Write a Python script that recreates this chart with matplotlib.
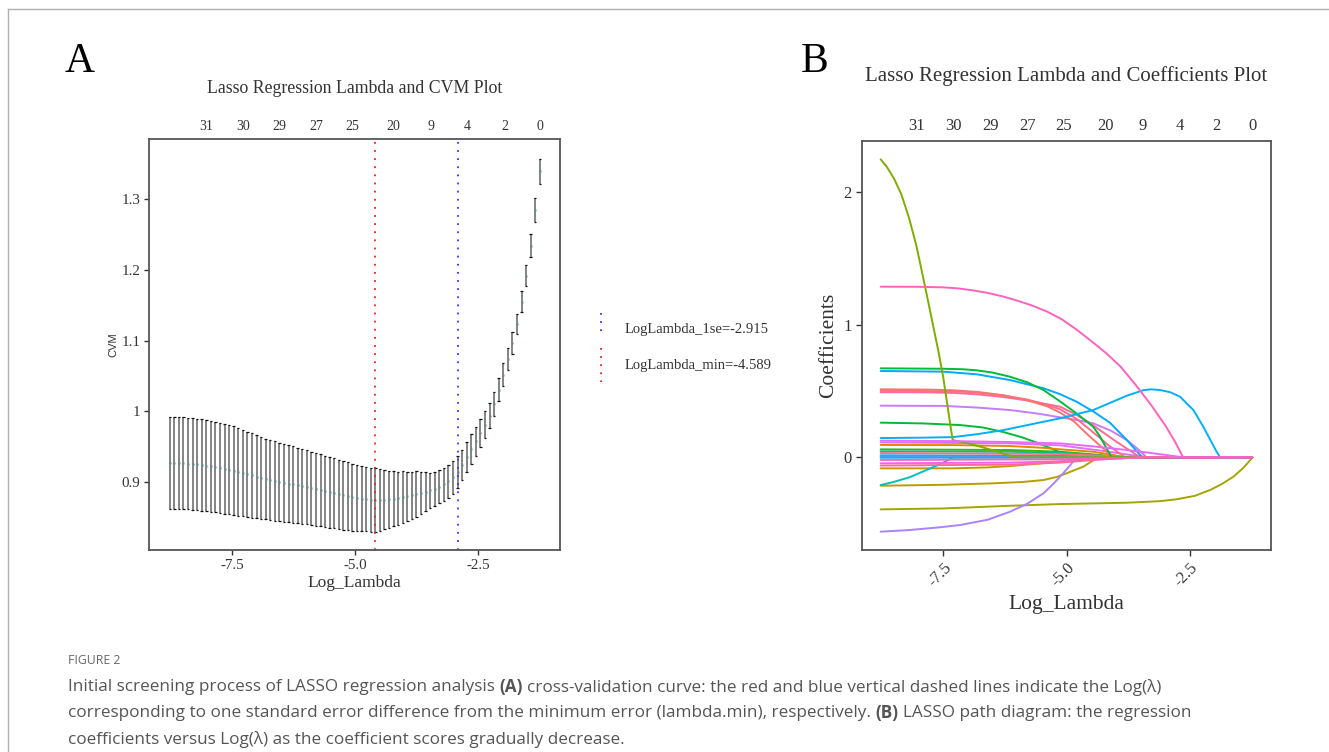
import matplotlib.pyplot as plt
from matplotlib.lines import Line2D

plt.rcParams['font.family'] = ['Liberation Serif', 'DejaVu Serif']

# ---------------- panel A : cross-validation curve ----------------
log_lambda = [-8.774, -8.681, -8.588, -8.495, -8.402, -8.309, -8.216, -8.123, -8.030, -7.937,
              -7.844, -7.751, -7.658, -7.565, -7.472, -7.379, -7.286, -7.193, -7.100, -7.007,
              -6.914, -6.821, -6.728, -6.635, -6.542, -6.449, -6.356, -6.263, -6.170, -6.077,
              -5.984, -5.891, -5.798, -5.705, -5.612, -5.519, -5.426, -5.333, -5.240, -5.147,
              -5.054, -4.961, -4.868, -4.775, -4.682, -4.589, -4.496, -4.403, -4.310, -4.217,
              -4.124, -4.031, -3.938, -3.845, -3.752, -3.659, -3.566, -3.473, -3.380, -3.287,
              -3.194, -3.101, -3.008, -2.915, -2.822, -2.729, -2.636, -2.543, -2.450, -2.357,
              -2.264, -2.171, -2.078, -1.985, -1.892, -1.799, -1.706, -1.613, -1.520, -1.427,
              -1.334, -1.241]
cvm = [0.9270, 0.9268, 0.9266, 0.9263, 0.9260, 0.9255, 0.9250, 0.9240, 0.9230, 0.9220,
       0.9208, 0.9196, 0.9184, 0.9172, 0.9160, 0.9143, 0.9126, 0.9109, 0.9092, 0.9075,
       0.9058, 0.9042, 0.9028, 0.9015, 0.9002, 0.8990, 0.8978, 0.8965, 0.8952, 0.8940,
       0.8925, 0.8910, 0.8896, 0.8882, 0.8868, 0.8854, 0.8840, 0.8826, 0.8812, 0.8798,
       0.8785, 0.8773, 0.8763, 0.8756, 0.8750, 0.8745, 0.8747, 0.8750, 0.8755, 0.8762,
       0.8772, 0.8785, 0.8798, 0.8811, 0.8825, 0.8842, 0.8860, 0.8880, 0.8905, 0.8935,
       0.8970, 0.9012, 0.9065, 0.9140, 0.9240, 0.9358, 0.9470, 0.9575, 0.9690, 0.9810,
       0.9940, 1.0100, 1.0305, 1.0520, 1.0735, 1.0965, 1.1235, 1.1550, 1.1920, 1.2345,
       1.2850, 1.3395]
cvsd = [0.0650, 0.0650, 0.0650, 0.0650, 0.0648, 0.0647, 0.0646, 0.0645, 0.0643, 0.0640,
        0.0638, 0.0635, 0.0633, 0.0630, 0.0628, 0.0620, 0.0612, 0.0604, 0.0596, 0.0588,
        0.0580, 0.0572, 0.0565, 0.0560, 0.0556, 0.0551, 0.0546, 0.0541, 0.0536, 0.0530,
        0.0525, 0.0520, 0.0515, 0.0510, 0.0505, 0.0500, 0.0495, 0.0490, 0.0485, 0.0480,
        0.0474, 0.0467, 0.0460, 0.0456, 0.0452, 0.0450, 0.0435, 0.0418, 0.0400, 0.0388,
        0.0376, 0.0364, 0.0350, 0.0337, 0.0324, 0.0300, 0.0275, 0.0250, 0.0240, 0.0230,
        0.0232, 0.0235, 0.0228, 0.0223, 0.0218, 0.0213, 0.0210, 0.0205, 0.0200, 0.0190,
        0.0175, 0.0170, 0.0165, 0.0160, 0.0155, 0.0155, 0.0148, 0.0150, 0.0148, 0.0157,
        0.0170, 0.0175]
lambda_min = -4.589
lambda_1se = -2.915

# number of non-zero coefficients shown on the top axis
nz_pos = [-8.04, -7.29, -6.55, -5.80, -5.06, -4.22, -3.46, -2.71, -1.96, -1.23]
nz_labels = ['31', '30', '29', '27', '25', '20', '9', '4', '2', '0']

# ---------------- panel B : coefficient paths (log_lambda, coef) ----------------
b_olive = [(-8.77, 2.244), (-8.65, 2.19), (-8.50, 2.10), (-8.35, 1.98), (-8.20, 1.81),
           (-8.05, 1.60), (-7.90, 1.34), (-7.75, 1.07), (-7.60, 0.80), (-7.50, 0.60),
           (-7.42, 0.40), (-7.36, 0.25), (-7.31, 0.130), (-7.0, 0.105), (-6.7, 0.075),
           (-6.4, 0.042), (-6.15, 0.012), (-6.05, 0.0)]
b_pink = [(-8.77, 1.285), (-8.0, 1.284), (-7.5, 1.280), (-7.2, 1.272), (-6.9, 1.257),
          (-6.6, 1.238), (-6.3, 1.212), (-6.0, 1.180), (-5.7, 1.143), (-5.4, 1.098),
          (-5.1, 1.040), (-4.8, 0.962), (-4.5, 0.875), (-4.2, 0.785), (-3.9, 0.680),
          (-3.6, 0.545), (-3.3, 0.400), (-3.0, 0.240), (-2.8, 0.115), (-2.64, 0.0)]
b_blue_rise = [(-8.77, 0.145), (-7.9, 0.148), (-7.3, 0.152), (-6.8, 0.175), (-6.28, 0.205),
               (-5.7, 0.25), (-5.13, 0.294), (-4.46, 0.356), (-3.78, 0.464), (-3.45, 0.505),
               (-3.3, 0.512), (-3.11, 0.507), (-2.9, 0.49), (-2.70, 0.456), (-2.57, 0.407),
               (-2.43, 0.356), (-2.23, 0.23), (-2.16, 0.181), (-1.96, 0.042), (-1.89, 0.0)]
b_green = [(-8.77, 0.670), (-7.5, 0.667), (-7.1, 0.663), (-6.82, 0.655), (-6.5, 0.638),
           (-6.15, 0.607), (-5.8, 0.565), (-5.47, 0.507), (-5.13, 0.42), (-4.80, 0.331),
           (-4.46, 0.23), (-4.32, 0.155), (-4.09, 0.0)]
b_blue = [(-8.77, 0.650), (-7.5, 0.645), (-6.82, 0.625), (-6.15, 0.582), (-5.47, 0.520),
          (-5.13, 0.475), (-4.80, 0.419), (-4.46, 0.345), (-4.12, 0.26), (-3.78, 0.13),
          (-3.51, 0.017), (-3.46, 0.0)]
b_red1 = [(-8.77, 0.512), (-7.8, 0.510), (-7.3, 0.505), (-6.8, 0.492), (-6.3, 0.468),
          (-5.8, 0.43), (-5.4, 0.385), (-5.13, 0.336), (-4.85, 0.27), (-4.6, 0.18),
          (-4.3, 0.08), (-4.05, 0.0)]
b_red2 = [(-8.77, 0.500), (-7.8, 0.499), (-7.3, 0.497), (-6.8, 0.487), (-6.3, 0.467),
          (-5.8, 0.435), (-5.4, 0.395), (-5.13, 0.361), (-4.8, 0.29), (-4.5, 0.20),
          (-4.15, 0.09), (-3.82, 0.0)]
b_red3 = [(-8.77, 0.490), (-7.8, 0.489), (-7.3, 0.485), (-6.8, 0.474), (-6.3, 0.455),
          (-5.8, 0.428), (-5.4, 0.400), (-5.13, 0.381), (-4.8, 0.32), (-4.5, 0.25),
          (-4.0, 0.12), (-3.51, 0.0)]
b_purple = [(-8.77, 0.389), (-7.5, 0.387), (-6.82, 0.375), (-6.15, 0.356), (-5.6, 0.33),
            (-5.13, 0.301), (-4.80, 0.281), (-4.46, 0.256), (-4.1, 0.2), (-3.78, 0.130),
            (-3.55, 0.06), (-3.38, 0.0)]
b_green2 = [(-8.77, 0.261), (-7.9, 0.255), (-7.16, 0.243), (-6.7, 0.225), (-6.28, 0.19),
            (-5.9, 0.15), (-5.6, 0.11), (-5.3, 0.065), (-5.0, 0.012), (-4.95, 0.0)]
b_magenta = [(-8.77, 0.125), (-7.3, 0.122), (-6.15, 0.115), (-5.13, 0.105), (-4.4, 0.08),
             (-3.78, 0.055), (-3.2, 0.028), (-2.64, 0.0)]
b_violet = [(-8.77, 0.112), (-6.15, 0.105), (-5.13, 0.09), (-4.3, 0.05), (-3.38, 0.0)]
b_orange = [(-8.77, 0.093), (-7.3, 0.092), (-6.15, 0.085), (-5.5, 0.072), (-5.13, 0.06),
            (-4.46, 0.042), (-4.05, 0.017), (-3.85, 0.0)]
b_green3 = [(-8.77, 0.060), (-6.15, 0.055), (-5.13, 0.042), (-4.46, 0.022), (-3.85, 0.0)]
b_teal = [(-8.77, 0.045), (-6.15, 0.042), (-5.13, 0.033), (-4.3, 0.012), (-3.9, 0.0)]
b_salmon = [(-8.77, 0.032), (-5.13, 0.025), (-4.2, 0.01), (-3.45, 0.0)]
b_blue3 = [(-8.77, 0.015), (-5.13, 0.011), (-3.45, 0.0)]
b_blue4 = [(-8.77, 0.006), (-5.13, 0.004), (-3.45, 0.0)]
b_cyan2 = [(-8.77, -0.003), (-5.13, -0.002), (-3.45, 0.0)]
b_pink2 = [(-8.77, -0.020), (-5.13, -0.015), (-4.0, -0.006), (-3.40, 0.0)]
b_magenta2 = [(-8.77, -0.045), (-6.15, -0.040), (-5.13, -0.030), (-4.46, -0.016), (-3.45, 0.0)]
b_pink3 = [(-8.77, -0.062), (-6.15, -0.055), (-5.13, -0.040), (-4.3, -0.016), (-3.5, 0.0)]
b_gold = [(-8.77, -0.083), (-7.3, -0.083), (-6.6, -0.076), (-6.15, -0.066), (-5.13, -0.033),
          (-4.46, 0.0)]
b_cyan = [(-8.77, -0.209), (-8.5, -0.185), (-8.18, -0.150), (-7.9, -0.105), (-7.63, -0.062),
          (-7.45, -0.03), (-7.30, 0.0)]
b_olive2 = [(-8.77, -0.214), (-7.5, -0.207), (-6.49, -0.196), (-5.9, -0.186), (-5.47, -0.171),
            (-5.2, -0.148), (-5.0, -0.12), (-4.66, -0.07), (-4.36, 0.0)]
b_olive3 = [(-8.77, -0.392), (-7.5, -0.385), (-6.15, -0.365), (-5.13, -0.352), (-3.78, -0.342),
            (-3.1, -0.33), (-2.77, -0.316), (-2.4, -0.29), (-2.09, -0.246), (-1.85, -0.20),
            (-1.62, -0.146), (-1.42, -0.08), (-1.23, 0.0)]
b_lavender = [(-8.77, -0.560), (-8.2, -0.548), (-7.6, -0.528), (-7.16, -0.51), (-6.6, -0.47),
              (-6.15, -0.41), (-5.8, -0.35), (-5.47, -0.271), (-5.27, -0.20), (-5.07, -0.12),
              (-4.93, -0.06), (-4.80, 0.0)]

paths = [b_olive3, b_olive2, b_gold, b_cyan, b_lavender, b_green2, b_green3, b_teal,
         b_blue3, b_blue4, b_cyan2, b_salmon, b_orange, b_violet, b_purple, b_red3, b_red2,
         b_red1, b_blue, b_green, b_blue_rise, b_olive, b_magenta2, b_pink3, b_pink2,
         b_magenta, b_pink]
colors = ['#A3A500', '#B79F00', '#C49A00', '#00BFC4', '#AB82FF', '#00BA38', '#39B600',
          '#00C08B', '#00ACFC', '#619CFF', '#00B4EF', '#FD6F86', '#E58700', '#DC71FA',
          '#C77CFF', '#FF6A98', '#FF6C91', '#F8766D', '#00A9FF', '#00BA38', '#00B0F6',
          '#7CAE00', '#F166E8', '#FF689F', '#FF64B0', '#E76BF3', '#FF62BC']

# ------------------------------------------------------------------
W, H = 1329, 752
fig = plt.figure(figsize=(W / 100, H / 100), dpi=100)
spine_col = '#555555'
txt_col = '#333333'

# ---- panel A
ax1 = fig.add_axes([149.3 / W, 1 - 549.7 / H, 410.7 / W, 410.7 / H])
lo = [m - s for m, s in zip(cvm, cvsd)]
hi = [m + s for m, s in zip(cvm, cvsd)]
ax1.vlines(log_lambda, lo, hi, color='#707070', lw=1.2)
ax1.hlines(lo, [x - 0.025 for x in log_lambda], [x + 0.025 for x in log_lambda], color='#111111', lw=0.9)
ax1.hlines(hi, [x - 0.025 for x in log_lambda], [x + 0.025 for x in log_lambda], color='#111111', lw=0.9)
ax1.plot(log_lambda, cvm, 's', ms=1.7, color='#5e8f87', mec='none')
ax1.axvline(lambda_min, color='#e8221b', ls=(0, (1, 3.5)), lw=1.3)
ax1.axvline(lambda_1se, color='#3535ff', ls=(0, (1, 3.5)), lw=1.3)
ax1.set_xlim(-9.19, -0.83)
ax1.set_ylim(0.8042, 1.3853)
ax1.set_xticks([-7.5, -5.0, -2.5])
ax1.set_xticklabels(['-7.5', '-5.0', '-2.5'])
ax1.set_yticks([0.9, 1.0, 1.1, 1.2, 1.3])
ax1.set_yticklabels(['0.9', '1', '1.1', '1.2', '1.3'])
ax1.tick_params(labelsize=10.8, length=3.5, width=1, colors=txt_col, pad=3)
ax1.set_xlabel('Log_Lambda', fontsize=12.5, color=txt_col, labelpad=2)
ax1.set_ylabel('CVM', fontsize=8, family=['Liberation Sans', 'DejaVu Sans'], color=txt_col, labelpad=2)
ax1.set_title('Lasso Regression Lambda and CVM Plot', fontsize=12.8, color=txt_col, pad=33)
sec1 = ax1.secondary_xaxis('top')
sec1.set_xticks(nz_pos)
sec1.set_xticklabels(nz_labels)
sec1.tick_params(length=0, labelsize=10, colors=txt_col, pad=4.5)
sec1.spines['top'].set_visible(False)

# ---- panel B
ax2 = fig.add_axes([861.7 / W, 1 - 550 / H, 409.3 / W, 409 / H])
end_x = log_lambda[-1]
for p, c in zip(paths, colors):
    xs = [q[0] for q in p]
    ys = [q[1] for q in p]
    if xs[-1] < end_x:
        xs.append(end_x)
        ys.append(0.0)
    ax2.plot(xs, ys, color=c, lw=1.4, solid_capstyle='round', solid_joinstyle='round')
ax2.set_xlim(-9.154, -0.858)
ax2.set_ylim(-0.698, 2.382)
ax2.set_xticks([-7.5, -5.0, -2.5])
ax2.set_xticklabels(['-7.5', '-5.0', '-2.5'], rotation=45, ha='right', rotation_mode='anchor')
ax2.set_yticks([0, 1, 2])
ax2.tick_params(labelsize=12, length=4, width=1, colors=txt_col, pad=3)
ax2.set_xlabel('Log_Lambda', fontsize=15.5, color=txt_col, labelpad=4)
ax2.set_ylabel('Coefficients', fontsize=15.5, color=txt_col, labelpad=4)
ax2.set_title('Lasso Regression Lambda and Coefficients Plot', fontsize=15, color=txt_col, pad=43)
sec2 = ax2.secondary_xaxis('top')
sec2.set_xticks(nz_pos)
sec2.set_xticklabels(nz_labels)
sec2.tick_params(length=0, labelsize=12, colors=txt_col, pad=5)
sec2.spines['top'].set_visible(False)

for ax in (ax1, ax2):
    for s in ax.spines.values():
        s.set_color(spine_col)
        s.set_linewidth(1.3)

# legend of panel A
leg_x = 601 / W
fig.add_artist(Line2D([leg_x, leg_x], [1 - 313 / H, 1 - 337 / H], color='#3535ff', ls=(0, (1, 3.5)), lw=1.3))
fig.add_artist(Line2D([leg_x, leg_x], [1 - 348 / H, 1 - 382 / H], color='#e8221b', ls=(0, (1, 3.5)), lw=1.3))
fig.text(625 / W, 1 - 330 / H, 'LogLambda_1se=%.3f' % lambda_1se, fontsize=10.5, color=txt_col, va='center')
fig.text(625 / W, 1 - 365 / H, 'LogLambda_min=%.3f' % lambda_min, fontsize=10.5, color=txt_col, va='center')

# panel letters
fig.text(80 / W, 1 - 62 / H, 'A', fontsize=30, ha='center', va='center')
fig.text(815 / W, 1 - 62 / H, 'B', fontsize=30, ha='center', va='center')

# page frame
fig.add_artist(Line2D([8 / W, 1], [1 - 8.5 / H, 1 - 8.5 / H], color='#b0b0b0', lw=1))
fig.add_artist(Line2D([8 / W, 8 / W], [0, 1 - 8.5 / H], color='#b0b0b0', lw=1))

# caption
cap_font = ['Open Sans', 'DejaVu Sans']
cap_col = '#555555'
fig.text(68 / W, 1 - 660 / H, 'FIGURE 2', fontsize=8.8, family=cap_font, color='#666666', va='center')
renderer = fig.canvas.get_renderer()


def space_width(size):
    a = fig.text(0, 0, 'x x', fontsize=size, family=cap_font)
    b = fig.text(0, 0, 'xx', fontsize=size, family=cap_font)
    w = a.get_window_extent(renderer).width - b.get_window_extent(renderer).width
    a.remove()
    b.remove()
    return w


def caption_line(y, runs, size=12.3):
    x = 68.0
    sp = space_width(size)
    for i, (s, bold) in enumerate(runs):
        if i > 0:
            x += sp
        t = fig.text(x / W, 1 - y / H, s, fontsize=size, family=cap_font, color=cap_col,
                     fontweight='bold' if bold else 'normal', va='center')
        x += t.get_window_extent(renderer).width


caption_line(687, [('Initial screening process of LASSO regression analysis', False), ('(A)', True),
                   ('cross-validation curve: the red and blue vertical dashed lines indicate the Log(λ)', False)])
caption_line(713, [('corresponding to one standard error difference from the minimum error (lambda.min), respectively.', False),
                   ('(B)', True), ('LASSO path diagram: the regression', False)])
caption_line(739, [('coefficients versus Log(λ) as the coefficient scores gradually decrease.', False)])

fig.savefig('out.png', dpi=100, facecolor='white')
